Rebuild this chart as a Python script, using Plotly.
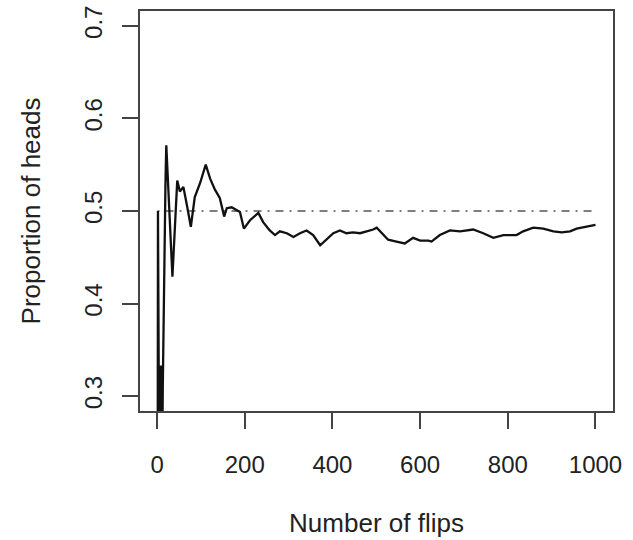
import plotly.graph_objects as go

# Running proportion of heads
flips = [1, 2, 3, 4, 5, 6, 7, 8, 9, 10, 11, 12, 13, 14, 15, 16, 17, 18, 19, 20, 21,
         35, 46, 52, 60, 67, 77, 86, 98, 111, 121, 132, 143, 153, 159, 170, 181,
         189, 198, 212, 231, 242, 257, 269, 280, 296, 311, 326, 341, 356, 372,
         387, 402, 417, 432, 447, 463, 478, 493, 501, 512, 527, 546, 565, 584,
         600, 619, 626, 645, 668, 691, 721, 744, 767, 790, 820, 835, 858, 881,
         904, 923, 942, 957, 980, 1000]
prop_heads = [0.0, 0.5, 0.333, 0.25, 0.2, 0.333, 0.286, 0.25, 0.333, 0.3, 0.273,
              0.25, 0.308, 0.357, 0.4, 0.438, 0.471, 0.5, 0.526, 0.55, 0.571,
              0.429, 0.533, 0.521, 0.526, 0.509, 0.483, 0.515, 0.530, 0.550,
              0.535, 0.523, 0.514, 0.494, 0.503, 0.504, 0.501, 0.499, 0.481,
              0.490, 0.498, 0.488, 0.479, 0.474, 0.478, 0.476, 0.472, 0.476,
              0.479, 0.474, 0.463, 0.469, 0.476, 0.479, 0.476, 0.477, 0.476,
              0.478, 0.480, 0.482, 0.476, 0.469, 0.467, 0.465, 0.471, 0.468,
              0.468, 0.467, 0.474, 0.479, 0.478, 0.480, 0.476, 0.471, 0.474,
              0.474, 0.478, 0.482, 0.481, 0.478, 0.477, 0.478, 0.481, 0.483,
              0.485]
ref_x = [1, 1000]
ref_y = [0.5, 0.5]

x_ticks = [0, 200, 400, 600, 800, 1000]
y_ticks = [0.3, 0.4, 0.5, 0.6, 0.7]
y_tick_labels = ["0.3", "0.4", "0.5", "0.6", "0.7"]

FONT = "Liberation Sans, Arial, Helvetica, sans-serif"
AXC = "#444444"

fig = go.Figure()
fig.add_trace(go.Scatter(x=ref_x, y=ref_y, mode="lines",
                         line=dict(color="#555555", width=1.5, dash="2px,6px,8px,6px"),
                         hoverinfo="skip", showlegend=False))
fig.add_trace(go.Scatter(x=flips, y=prop_heads, mode="lines",
                         line=dict(color="#111111", width=2.3),
                         showlegend=False))

fig.update_layout(
    width=633, height=540,
    margin=dict(l=140, r=20, t=11, b=129, autoexpand=False),
    paper_bgcolor="white", plot_bgcolor="white",
    font=dict(family=FONT, size=24, color="#222222"),
    showlegend=False,
)
fig.update_xaxes(
    range=[-38.96, 1039.96], tickvals=x_ticks,
    ticks="outside", ticklen=16, tickwidth=1.5, tickcolor=AXC,
    showline=True, mirror=True, linecolor=AXC, linewidth=1.5,
    showgrid=False, zeroline=False, automargin=False,
    ticklabelstandoff=15,
    title=dict(text="Number of flips", font=dict(size=26), standoff=37),
)
fig.update_yaxes(
    range=[0.284, 0.716], tickvals=y_ticks, ticktext=y_tick_labels,
    tickangle=-90,
    ticks="outside", ticklen=16, tickwidth=1.5, tickcolor=AXC,
    showline=True, mirror=True, linecolor=AXC, linewidth=1.5,
    showgrid=False, zeroline=False, automargin=False,
    ticklabelstandoff=11,
    title=dict(text="Proportion of heads", font=dict(size=26), standoff=32),
)

fig.write_html("out.html",
               config={"displayModeBar": False},
               post_script="document.body.style.margin='0px';document.body.style.overflow='hidden';")
